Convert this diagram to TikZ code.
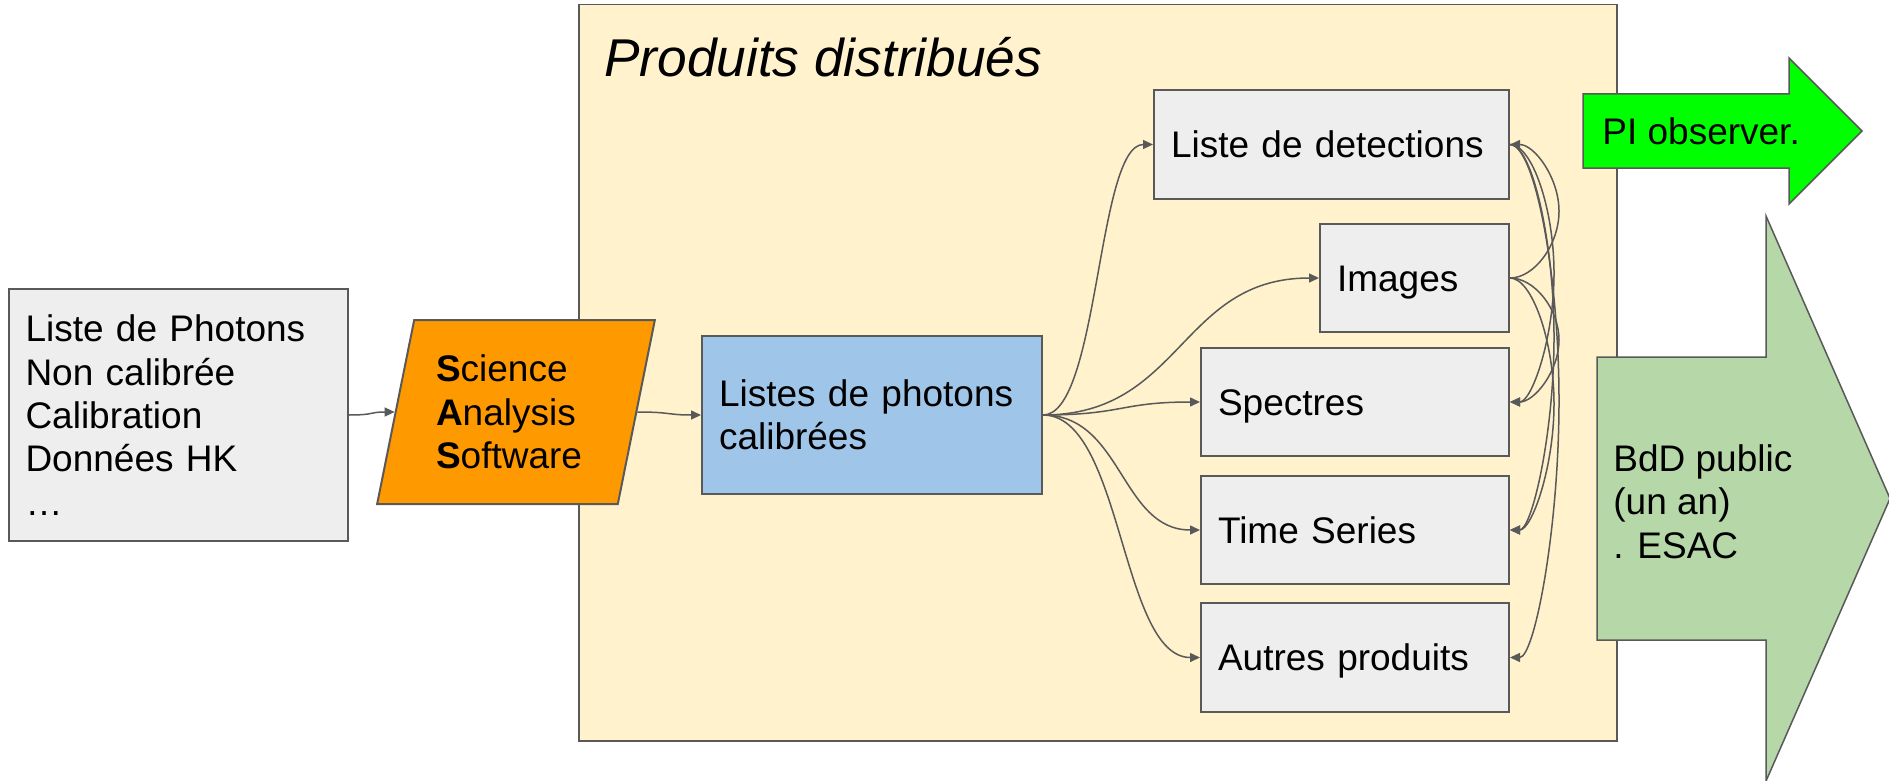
\documentclass[tikz,border=0pt]{standalone}
\usepackage{fontspec}
\setmainfont{Liberation Sans}
\usetikzlibrary{arrows.meta,calc,shapes.geometric}

\definecolor{edge}{HTML}{595959}
\definecolor{panel}{HTML}{FFF2CC}
\definecolor{boxgray}{HTML}{EEEEEE}
\definecolor{sasorange}{HTML}{FF9900}
\definecolor{calblue}{HTML}{9FC5E8}
\definecolor{pigreen}{HTML}{00FF00}
\definecolor{bddgreen}{HTML}{B6D7A8}

\tikzset{
  base/.style={font=\fontsize{18.5}{21.7}\selectfont, text=black},
  box/.style={base, draw=edge, line width=1pt, rectangle, align=left,
    inner xsep=8.5pt, inner ysep=0pt, anchor=north west},
  prod/.style={box, fill=boxgray, text height=13.25pt, text depth=0pt},
  bigarrow/.style={draw=edge, line width=0.75pt},
  conn/.style={draw=edge, line width=0.75pt, -{Triangle[length=5pt,width=4.5pt]}},
}

% curved connector leaving #1 and entering #2 on their right sides,
% bulging out to the x position of coordinate #3
\newcommand\railloop[3]{%
  \draw[conn] (#1.east)
    .. controls ($(#1.east)!0.5!(#3 |- #1.east)$) and ($(#3 |- #1.east)!0.25!(#3 |- #2.east)$)
    .. ($(#3 |- #1.east)!0.5!(#3 |- #2.east)$)
    .. controls ($(#3 |- #1.east)!0.75!(#3 |- #2.east)$) and ($(#2.east)!0.5!(#3 |- #2.east)$)
    .. (#2.east);}

\begin{document}
\begin{tikzpicture}[x=0.5pt,y=-0.5pt]
\clip (0,0) rectangle (1889,781);
\fill[white] (0,0) rectangle (1889,781);

% distributed products panel
\node[draw=edge, line width=0.75pt, fill=panel, minimum width=519pt,
  minimum height=368pt, anchor=north west, inner sep=0pt] (panel) at (578,4) {};
\node[base, font=\fontsize{26.6}{32}\selectfont\itshape, anchor=base west,
  inner sep=0pt] (title) at (604,76) {Produits distribués};

% raw inputs
\node[box, fill=boxgray, inner xsep=8.25pt, minimum width=169.5pt,
  minimum height=126pt, text width=153pt] (raw) at (8,288)
  {Liste de Photons\\Non calibrée\\Calibration\\Données HK\\…};

% analysis software
\node[base, trapezium, trapezium left angle=75.67, trapezium right angle=104.33,
  trapezium stretches=true, draw=edge, line width=1pt, fill=sasorange,
  minimum width=139pt, minimum height=92pt, align=left, text width=80pt,
  inner sep=0pt] (sas) at (516,412)
  {\textbf{S}cience\\\textbf{A}nalysis\\\textbf{S}oftware};

% calibrated photon lists
\node[box, fill=calblue, minimum width=170pt, minimum height=79pt,
  text width=153pt] (cal) at (701,335) {Listes de photons\\calibrées};

% products
\node[prod, minimum width=177.5pt, minimum height=54.5pt, text width=160.5pt] (det) at (1153,89) {Liste de detections};
\node[prod, minimum width=94.5pt, minimum height=54pt, text width=77.5pt] (img) at (1319,223) {Images};
\node[prod, minimum width=154pt, minimum height=54pt, text width=137pt] (spec) at (1200,347) {Spectres};
\node[prod, minimum width=154pt, minimum height=54pt, text width=137pt] (time) at (1200,475) {Time Series};
\node[prod, minimum width=154pt, minimum height=54.5pt, text width=137pt] (aut) at (1200,602) {Autres produits};

% main flow
\draw[conn] (raw.east) .. controls +(26,0) and +(-26,0) .. (sas.west);
\draw[conn] (sas.east) .. controls +(34,0) and +(-34,0) .. (cal.west);
\draw[conn] (cal.east) .. controls +(56,0) and +(-56,0) .. (det.west);
\draw[conn] (cal.east) .. controls +(139,0) and +(-139,0) .. (img.west);
\draw[conn] (cal.east) .. controls +(79.5,0) and +(-79.5,0) .. (spec.west);
\draw[conn] (cal.east) .. controls +(79.5,0) and +(-79.5,0) .. (time.west);
\draw[conn] (cal.east) .. controls +(79.5,0) and +(-79.5,0) .. (aut.west);

% derived products
\coordinate (rail) at (1559,0);
\coordinate (railin) at (1554,0);
\railloop{img}{det}{rail}
\railloop{det}{spec}{railin}
\railloop{det}{time}{railin}
\railloop{det}{aut}{rail}
\railloop{img}{spec}{rail}
\railloop{img}{time}{railin}

% PI observer arrow
\path[bigarrow, fill=pigreen] (1583,94) -- (1789,94) -- (1789,58) -- (1862,131)
  -- (1789,204) -- (1789,168) -- (1583,168) -- cycle;
\node[base, text height=13.25pt, text depth=0pt, anchor=west, inner sep=0pt]
  (pi) at (1602,131) {PI observer.};

% public database arrow
\path[bigarrow, fill=bddgreen] (1597,357) -- (1766,357) -- (1766,216) -- (1890,498.5)
  -- (1766,781) -- (1766,640) -- (1597,640) -- cycle;
\node[base, anchor=west, align=left, inner sep=0pt] (bdd) at (1613,501.5)
  {BdD public\\(un an)\\. ESAC};
\end{tikzpicture}
\end{document}
